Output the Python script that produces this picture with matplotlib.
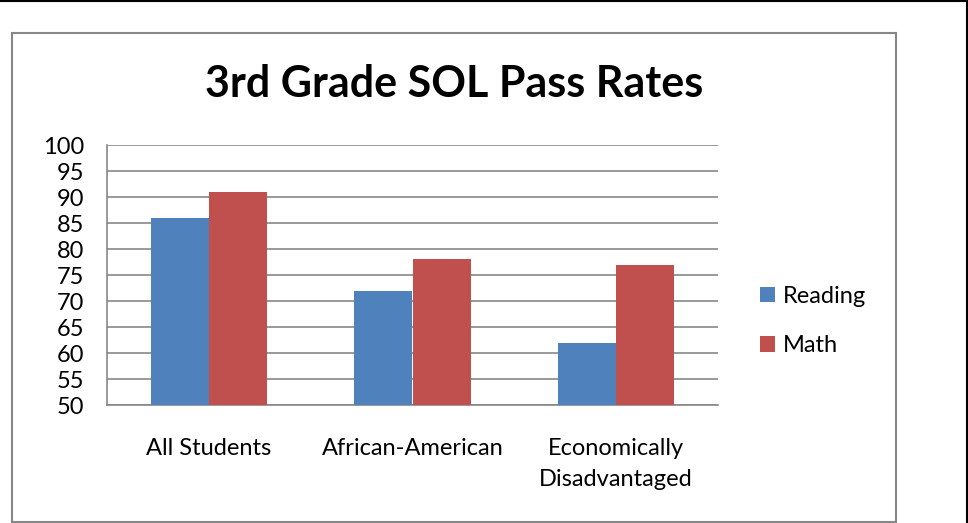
import matplotlib
matplotlib.use("Agg")
import matplotlib.pyplot as plt
import numpy as np
from matplotlib.patches import Rectangle
from matplotlib.lines import Line2D

categories = ["All Students", "African-American", "Economically\nDisadvantaged"]
series_names = ["Reading", "Math"]
reading = [86, 72, 62]
math_vals = [91, 78, 77]
yticks = [50, 55, 60, 65, 70, 75, 80, 85, 90, 95, 100]
title = "3rd Grade SOL Pass Rates"

W, H = 968, 523
plt.rcParams['font.family'] = ['Lato', 'DejaVu Sans']
fig = plt.figure(figsize=(W / 100, H / 100), dpi=100)

def fx(px):
    return px / W

def fy(py):
    return 1 - py / H

# outer black border (top and right)
fig.add_artist(Line2D([0, 1], [fy(0.5), fy(0.5)], color='black', lw=1.5, transform=fig.transFigure))
fig.add_artist(Line2D([fx(966.5), fx(966.5)], [0, 1], color='black', lw=1.5, transform=fig.transFigure))

# chart area gray box
fig.add_artist(Rectangle((fx(12), fy(522)), fx(896) - fx(12), fy(33) - fy(522),
                         fill=False, edgecolor='#878787', lw=1.5, transform=fig.transFigure))

ax = fig.add_axes([fx(107), fy(405), fx(718) - fx(107), fy(145) - fy(405)])
x = np.arange(len(categories))
w = 1 / 3.5
ax.bar(x - w / 2, reading, width=w, color='#4F81BD', label=series_names[0], zorder=3)
ax.bar(x + w / 2, math_vals, width=w, color='#C0504D', label=series_names[1], zorder=3)

ax.set_xlim(-0.5, 2.5)
ax.set_ylim(50, 100)
ax.set_yticks(yticks)
ax.set_yticklabels([str(v) for v in yticks], fontsize=17)
ax.set_xticks(x)
ax.set_xticklabels(categories, fontsize=17, linespacing=1.58, va='top')
ax.tick_params(axis='both', length=0)
ax.tick_params(axis='x', pad=24)
ax.tick_params(axis='y', pad=16.5)
ax.yaxis.grid(True, color='#878787', lw=1.2, zorder=0)
for s in ['top', 'right']:
    ax.spines[s].set_visible(False)
for s in ['left', 'bottom']:
    ax.spines[s].set_color('#878787')
    ax.spines[s].set_linewidth(1.2)

fig.text(fx(454), fy(84), title, fontsize=31, fontweight='bold', ha='center', va='center')

ax.legend(loc='center left', bbox_to_anchor=(fx(739), fy(321)), bbox_transform=fig.transFigure,
          frameon=False, fontsize=17, handlelength=0.64, handleheight=0.64,
          handletextpad=0.3, labelspacing=1.2)

fig.savefig("out.png", dpi=100)
